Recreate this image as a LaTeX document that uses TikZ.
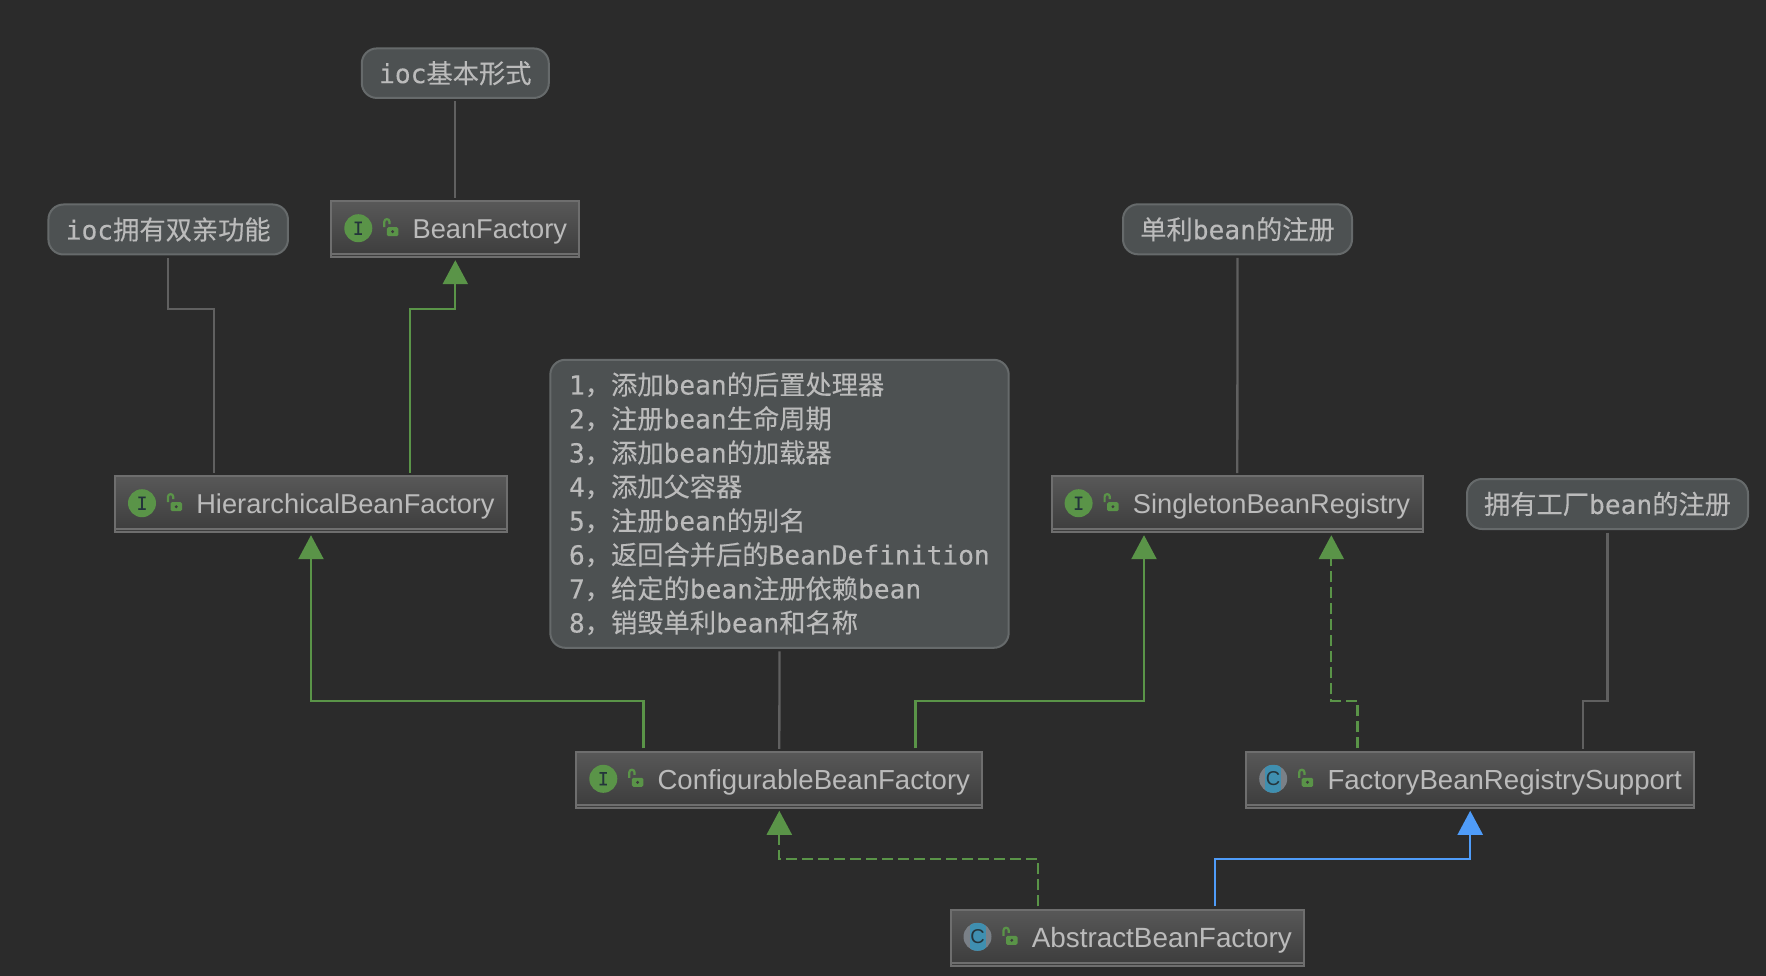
\documentclass[tikz,border=0pt]{standalone}
\usepackage{fontspec}
\setmainfont{Liberation Sans}
\newfontfamily\monof[FakeBold=0.2]{DejaVu Sans Mono}
\newfontfamily\cjkf[FakeBold=0.2]{Noto Sans CJK SC}
\newcommand{\zh}[1]{{\cjkf #1}}
\usetikzlibrary{arrows.meta,calc}
\definecolor{bgc}{HTML}{2B2B2B}
\definecolor{notefill}{HTML}{4D5152}
\definecolor{noteedge}{HTML}{666A6B}
\definecolor{boxedge}{HTML}{6E6E6E}
\definecolor{boxtop}{HTML}{585858}
\definecolor{boxbot}{HTML}{3C3C3C}
\definecolor{txt}{HTML}{BBBBBB}
\definecolor{linegray}{HTML}{606060}
\definecolor{lgreen}{HTML}{5A9448}
\definecolor{lblue}{HTML}{4F9CF9}
\definecolor{iconblue}{HTML}{3F8FB0}
\definecolor{icongray}{HTML}{7A8087}
\definecolor{icondark}{HTML}{24343B}
\tikzset{
  notebox/.style={draw=noteedge,fill=notefill,line width=2pt,rounded corners=15pt,
    inner sep=0pt,text=txt,font=\monof\fontsize{26.25}{34}\selectfont},
  classbox/.style={draw=boxedge,line width=2pt,top color=boxtop,bottom color=boxbot,
    minimum height=56pt,inner sep=0pt,text=txt,
    font=\fontsize{27.25}{32}\selectfont,
    path picture={\draw[boxedge,line width=1.6pt]
      ([yshift=3pt]path picture bounding box.south west) --
      ([yshift=3pt]path picture bounding box.south east);}},
  link/.style={line width=2.3pt,shorten <=2.5pt,shorten >=2pt,sharp corners},
  noteline/.style={link,draw=linegray},
  ext/.style={link,draw=lgreen,-{Triangle[width=25pt,length=24pt]}},
  impl/.style={ext,dash pattern=on 11pt off 5pt},
  sup/.style={link,draw=lblue,-{Triangle[width=25pt,length=24pt]}},
  lockshape/.pic={
    \draw[lgreen,line width=2.2pt] (26,-1) -- (26,-6.5) arc[start angle=180,end angle=0,x radius=2.6,y radius=-2.6] -- (31.2,-4);
    \fill[lgreen,rounded corners=1.5pt] (28.5,-1) rectangle (40,8);
    \fill[boxbot] (34.3,3.5) circle[radius=1.6];
  },
  ifaceicon/.pic={
    \fill[lgreen] (0,0) circle[radius=14];
    \node[inner sep=0pt,text=icondark,font=\monof\fontsize{18}{18}\selectfont] (-t) at (0,0) {I};
    \pic {lockshape};
  },
  classicon/.pic={
    \fill[icongray] (0,0) circle[radius=14];
    \begin{scope}
      \clip (0,0) circle[radius=14];
      \fill[iconblue] (-8,-14) rectangle (8,14);
    \end{scope}
    \node[inner sep=0pt,text=icondark,font=\fontsize{20}{20}\selectfont] (-t) at (0,0) {C};
    \pic {lockshape};
  }
}
\newcommand{\boxtext}[2]{\makebox[#1pt][l]{\hspace{81.3pt}\raisebox{-9.3pt}[0pt][0pt]{#2}}}
\begin{document}
\begin{tikzpicture}[x=1pt,y=-1pt]
\fill[bgc] (0,0) rectangle (1766,976);
\useasboundingbox (0,0) rectangle (1766,976);

% notes
\node[notebox,minimum width=187pt,minimum height=49.5pt] (n1) at (455.3,73.2) {ioc\zh{基本形式}};
\node[notebox,minimum width=239.5pt,minimum height=50pt] (n2) at (168.2,229.5) {ioc\zh{拥有双亲功能}};
\node[notebox,minimum height=288pt,inner xsep=18.7pt,text width=421pt,align=left] (n3) at (779.5,503.8) {%
1\zh{，添加}bean\zh{的后置处理器}\\
2\zh{，注册}bean\zh{生命周期}\\
3\zh{，添加}bean\zh{的加载器}\\
4\zh{，添加父容器}\\
5\zh{，注册}bean\zh{的别名}\\
6\zh{，返回合并后的}BeanDefinition\\
7\zh{，给定的}bean\zh{注册依赖}bean\\
8\zh{，销毁单利}bean\zh{和名称}};
\node[notebox,minimum width=229pt,minimum height=50pt] (n4) at (1237.5,229.3) {\zh{单利}bean\zh{的注册}};
\node[notebox,minimum width=281pt,minimum height=50pt] (n5) at (1607.5,504) {\zh{拥有工厂}bean\zh{的注册}};

% classes
\node[classbox] (bf) at (455.3,229.2) {\boxtext{248}{BeanFactory}};
\node[classbox] (hbf) at (311,504.2) {\boxtext{392}{HierarchicalBeanFactory}};
\node[classbox] (sbr) at (1237.3,504.2) {\boxtext{371.4}{SingletonBeanRegistry}};
\node[classbox,font=\fontsize{27.55}{32}\selectfont] (cbf) at (779.3,779.8) {\boxtext{406}{ConfigurableBeanFactory}};
\node[classbox,font=\fontsize{27.6}{32}\selectfont] (fbrs) at (1470.2,779.8) {\boxtext{448}{FactoryBeanRegistrySupport}};
\node[classbox,font=\fontsize{27.85}{32}\selectfont] (abf) at (1127,937.8) {\boxtext{353}{AbstractBeanFactory}};

% icons
\pic (ibf) at ([xshift=28pt,yshift=1pt]bf.west) {ifaceicon};
\pic (ihbf) at ([xshift=28pt,yshift=1pt]hbf.west) {ifaceicon};
\pic (isbr) at ([xshift=28pt,yshift=1pt]sbr.west) {ifaceicon};
\pic (icbf) at ([xshift=28pt,yshift=1pt]cbf.west) {ifaceicon};
\pic (ifbrs) at ([xshift=28pt,yshift=1pt]fbrs.west) {classicon};
\pic (iabf) at ([xshift=28pt,yshift=1pt]abf.west) {classicon};

% routing helpers
\coordinate (e1) at (0,309);
\coordinate (e2) at (0,701);
\coordinate (e3) at (0,859);
\coordinate (a1) at ([xshift=-97.3pt]hbf.north);
\coordinate (a2) at ([xshift=99.3pt]hbf.north);
\coordinate (a3) at ([xshift=-135.8pt]cbf.north);
\coordinate (a4) at ([xshift=136.2pt]cbf.north);
\coordinate (a5) at ([xshift=-93.3pt]sbr.south);
\coordinate (a6) at ([xshift=-112.8pt]fbrs.north);
\coordinate (a7) at ([xshift=94pt]sbr.south);
\coordinate (a8) at ([xshift=112.5pt]fbrs.north);
\coordinate (a9) at ([xshift=-89.3pt]abf.north);
\coordinate (a10) at ([xshift=88pt]abf.north);

% connectors
\draw[noteline] (n1.south) -- (bf.north);
\draw[noteline] (n2.south) -- (n2.south |- e1) -- (a1 |- e1) -- (a1);
\draw[ext] (a2) -- (a2 |- e1) -- (bf.south |- e1) -- (bf.south);
\draw[noteline] (n3.south) -- (cbf.north);
\draw[ext] (a3) -- (a3 |- e2) -- (hbf.south |- e2) -- (hbf.south);
\draw[ext] (a4) -- (a4 |- e2) -- (a5 |- e2) -- (a5);
\draw[noteline] (n4.south) -- (sbr.north);
\draw[impl] (a6) -- (a6 |- e2) -- (a7 |- e2) -- (a7);
\draw[noteline] (n5.south) -- (n5.south |- e2) -- (a8 |- e2) -- (a8);
\draw[impl] (a9) -- (a9 |- e3) -- (cbf.south |- e3) -- (cbf.south);
\draw[sup] (a10) -- (a10 |- e3) -- (fbrs.south |- e3) -- (fbrs.south);
\end{tikzpicture}
\end{document}
